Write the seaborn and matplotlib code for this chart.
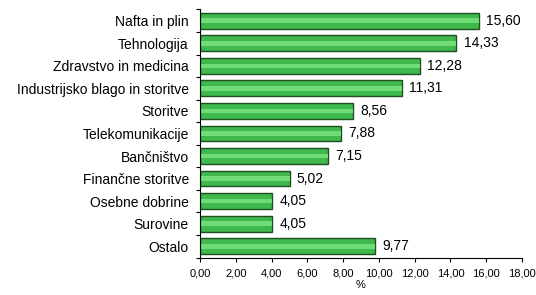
import matplotlib
matplotlib.use("Agg")
import matplotlib.pyplot as plt
import seaborn as sns
import pandas as pd
import numpy as np

categories = ["Nafta in plin", "Tehnologija", "Zdravstvo in medicina",
              "Industrijsko blago in storitve", "Storitve", "Telekomunikacije",
              "Bančništvo", "Finančne storitve", "Osebne dobrine", "Surovine", "Ostalo"]
values = [15.60, 14.33, 12.28, 11.31, 8.56, 7.88, 7.15, 5.02, 4.05, 4.05, 9.77]
x_ticks = [0, 2, 4, 6, 8, 10, 12, 14, 16, 18]

sns.set_theme(style="white")
plt.rcParams['font.family'] = ['Liberation Sans', 'DejaVu Sans']
plt.rcParams['text.color'] = 'black'
plt.rcParams['xtick.color'] = 'black'
plt.rcParams['ytick.color'] = 'black'
plt.rcParams['axes.labelcolor'] = 'black'

df = pd.DataFrame({"cat": categories, "val": values})

fig = plt.figure(figsize=(5.36, 2.95), dpi=100)
ax = fig.add_axes([0.373, 0.127, 0.601, 0.841])

sns.barplot(data=df, y="cat", x="val", orient="h", color="#3fb84c",
            saturation=1, width=0.7, edgecolor="#1f4f22", linewidth=1.0, ax=ax)
# highlight stripe
sns.barplot(data=df, y="cat", x="val", orient="h", color="#6fdc78",
            saturation=1, width=0.2, linewidth=0, ax=ax)

ax.set_xlim(0, 18)
ax.set_xticks(x_ticks)
ax.set_xticklabels([f"{t:.2f}".replace(".", ",") for t in x_ticks], fontsize=8)
ax.set_ylim(len(categories) - 0.5, -0.5)
ax.set_yticks(range(len(categories)))
ax.set_yticklabels(categories, fontsize=10)
ax.tick_params(axis='y', length=0, pad=8)
ax.tick_params(axis='x', length=3, width=0.8, color="black", direction="out", pad=5)
ax.xaxis.set_ticks_position('bottom')
# minor ticks at category boundaries on y
ax.set_yticks(np.arange(-0.5, len(categories), 1), minor=True)
ax.tick_params(axis='y', which='minor', length=3, width=0.8, color="black", direction="out", left=True)

ax.set_xlabel("%", fontsize=8, labelpad=1)
ax.set_ylabel("")
for s in ["top", "right"]:
    ax.spines[s].set_visible(False)
for s in ["left", "bottom"]:
    ax.spines[s].set_color("black")
    ax.spines[s].set_linewidth(0.8)

for i, v in enumerate(values):
    ax.text(v + 0.4, i, f"{v:.2f}".replace(".", ","), va="center", ha="left", fontsize=10)

fig.savefig("out.png", dpi=100)
